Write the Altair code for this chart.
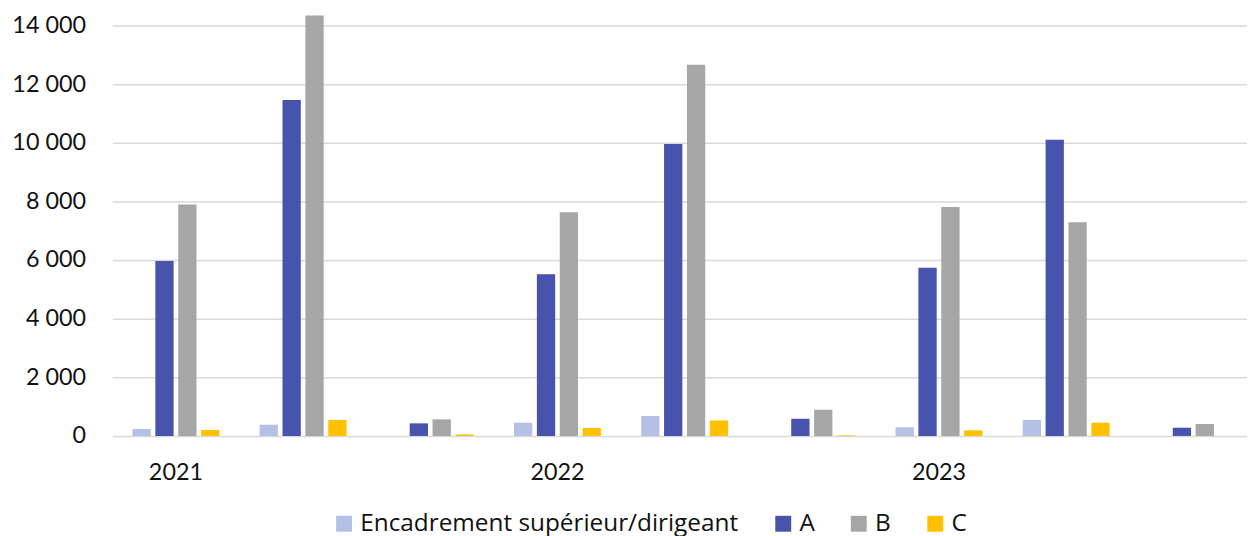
import altair as alt
import pandas as pd

years = ["2021", "2022", "2023"]
subgroups = ["1", "2", "3"]
series = ["Encadrement supérieur/dirigeant", "A", "B", "C"]
colors = ["#B4C1E4", "#4853AE", "#A6A6A6", "#FFC000"]

# values per cluster (3 sub-groups per year), in order 2021-1..2023-3
encadrement = [237, 383, None, 452, 678, None, 294, 542, None]
cat_a = [5970, 11460, 430, 5515, 9955, 588, 5740, 10100, 281]
cat_b = [7890, 14340, 565, 7627, 12655, 893, 7808, 7288, 407]
cat_c = [203, 542, 50, 271, 531, 20, 192, 452, None]

y_ticks = [0, 2000, 4000, 6000, 8000, 10000, 12000, 14000]

clusters = [f"{y}|{g}" for y in years for g in subgroups]
rows = []
for s, vals in zip(series, [encadrement, cat_a, cat_b, cat_c]):
    for cl, v in zip(clusters, vals):
        if v is not None:
            rows.append({"cluster": cl, "series": s, "value": v})
df = pd.DataFrame(rows)

FONT = "Lato"
FS = 23.5

chart = alt.Chart(df).mark_bar().encode(
    x=alt.X(
        "cluster:N",
        sort=clusters,
        scale=alt.Scale(range=[0, 1152], paddingInner=0, paddingOuter=0),
        axis=alt.Axis(
            title=None,
            labelExpr="indexof(datum.value, '|1') > 0 ? slice(datum.value, 0, 4) : ''",
            ticks=False,
            domain=False,
            labelAngle=0,
            labelFontSize=FS,
            labelFont=FONT,
            labelColor="#111111",
            labelPadding=25,
            labelBaseline="top",
        ),
    ),
    xOffset=alt.XOffset(
        "series:N", sort=series, scale=alt.Scale(paddingInner=0.2, paddingOuter=0.88)
    ),
    y=alt.Y(
        "value:Q",
        scale=alt.Scale(domain=[0, 14400], nice=False),
        axis=alt.Axis(
            title=None,
            values=y_ticks,
            labelExpr="replace(format(datum.value, ','), ',', ' ')",
            ticks=False,
            tickSize=0,
            domain=False,
            grid=True,
            gridColor="#D9D9D9",
            gridWidth=1.5,
            labelFontSize=FS,
            labelFont=FONT,
            labelColor="#111111",
            labelPadding=27,
        ),
    ),
    color=alt.Color(
        "series:N",
        sort=series,
        scale=alt.Scale(domain=series, range=colors),
        legend=alt.Legend(
            title=None,
            orient="none",
            direction="horizontal",
            legendX=221,
            legendY=501,
            symbolType="square",
            symbolSize=256,
            symbolStrokeWidth=0,
            labelFontSize=24.5,
            labelFont="Open Sans",
            labelColor="#111111",
            labelLimit=0,
            labelOffset=4,
            columnPadding=32,
            padding=0,
        ),
    ),
).properties(
    width=1142,
    height=425,
    autosize=alt.AutoSizeParams(type="none"),
    padding={"left": 105, "top": 4, "right": 0, "bottom": 103},
).configure_view(stroke=None)

chart.save("out.html", embed_options={"renderer": "svg", "actions": False})
